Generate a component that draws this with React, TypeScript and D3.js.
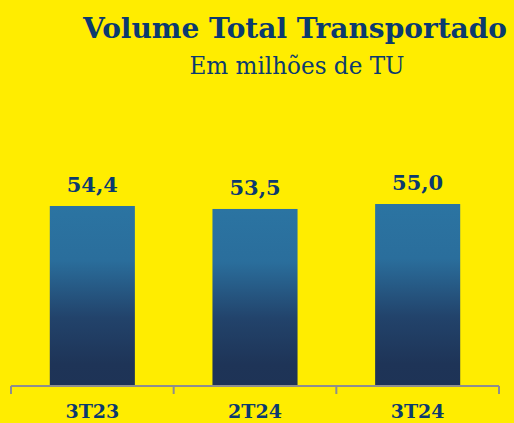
import React from "react";
import * as d3 from "d3";

const categories: string[] = ["3T23", "2T24", "3T24"];
const values: number[] = [54.4, 53.5, 55.0];
const valueLabels: string[] = ["54,4", "53,5", "55,0"];
const title = "Volume Total Transportado";
const subtitle = "Em milhões de TU";

const W = 514;
const H = 423;
const BG = "#FFED00";
const NAVY = "#0B3A6F";

export default function App() {
  const axisY = 386;
  const x = d3.scaleBand<string>().domain(categories).range([11, 499]).padding(0);
  const y = d3.scaleLinear().domain([0, 60]).range([axisY, axisY - 60 * 3.309]);
  const barW = x.bandwidth() * 0.523;
  const boundaries = [...categories.map((c) => x(c) as number), 499];

  return (
    <svg
      width={W}
      height={H}
      style={{ position: "absolute", left: 0, top: 0, display: "block" }}
      xmlns="http://www.w3.org/2000/svg"
    >
      <defs>
        <linearGradient id="barGrad" x1="0" y1="0" x2="0" y2="1">
          <stop offset="0" stopColor="#2B74A2" />
          <stop offset="0.3" stopColor="#2A6E9C" />
          <stop offset="0.62" stopColor="#22436B" />
          <stop offset="0.88" stopColor="#1E3457" />
          <stop offset="1" stopColor="#1E3356" />
        </linearGradient>
      </defs>
      <rect x={0} y={0} width={W} height={H} fill={BG} />

      <text
        x={295}
        y={38}
        textAnchor="middle"
        fontFamily="'DejaVu Serif', serif"
        fontWeight="bold"
        fontSize={27}
        fill={NAVY}
        textLength={424}
        lengthAdjust="spacingAndGlyphs"
      >
        {title}
      </text>
      <text
        x={297}
        y={74}
        textAnchor="middle"
        fontFamily="'DejaVu Serif', serif"
        fontSize={24}
        fill={NAVY}
        textLength={215}
        lengthAdjust="spacingAndGlyphs"
      >
        {subtitle}
      </text>

      {categories.map((c, i) => {
        const cx = (x(c) as number) + x.bandwidth() / 2;
        return (
          <g key={c}>
            <rect
              x={cx - barW / 2}
              y={y(values[i])}
              width={barW}
              height={axisY - y(values[i])}
              fill="url(#barGrad)"
            />
            <text
              x={cx}
              y={y(values[i]) - 14}
              textAnchor="middle"
              fontFamily="'DejaVu Serif', serif"
              fontWeight="bold"
              fontSize={21}
              fill={NAVY}
            >
              {valueLabels[i]}
            </text>
            <text
              x={cx}
              y={418}
              textAnchor="middle"
              fontFamily="'DejaVu Serif', serif"
              fontWeight="bold"
              fontSize={19}
              fill={NAVY}
            >
              {c}
            </text>
          </g>
        );
      })}

      <line x1={11} x2={499} y1={axisY} y2={axisY} stroke="#8E8E8E" strokeWidth={2} />
      {boundaries.map((b, i) => (
        <line key={i} x1={b} x2={b} y1={axisY} y2={axisY + 8} stroke="#8E8E8E" strokeWidth={2} />
      ))}
    </svg>
  );
}
